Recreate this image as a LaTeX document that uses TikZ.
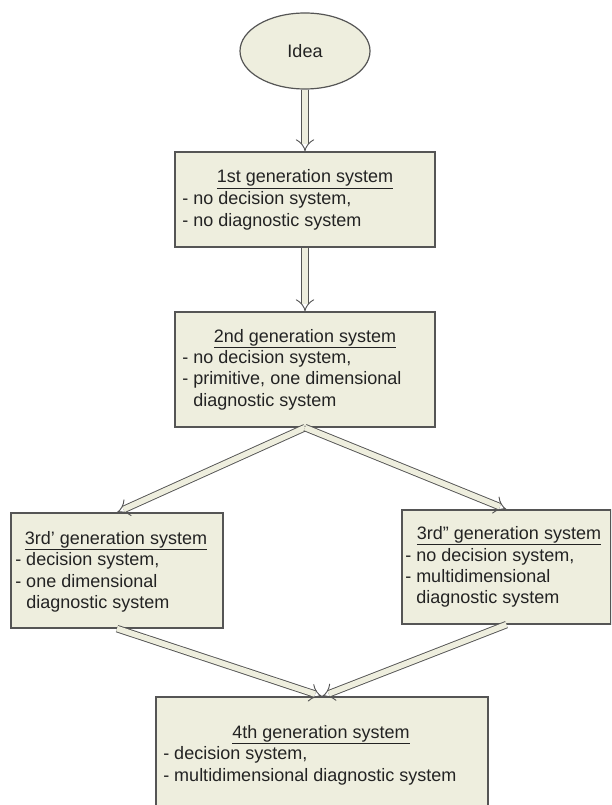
\documentclass[tikz,border=0pt]{standalone}
\usepackage{fontspec}
\setmainfont{Liberation Sans}
\usetikzlibrary{shapes.geometric,arrows.meta,arrows}
\definecolor{boxfill}{RGB}{238,238,222}
\definecolor{boxline}{RGB}{85,85,85}
\definecolor{txt}{RGB}{35,35,35}
\tikzset{
  box/.style={draw=boxline, fill=boxfill, line width=0.9pt, inner sep=0pt, rectangle},
  ideabox/.style={draw=boxline, fill=boxfill, line width=0.9pt, ellipse, inner sep=0pt,
    minimum width=97.5pt, minimum height=57pt, text=txt, font=\fontsize{13.5}{16.2}\selectfont},
  ttl/.style={anchor=base, inner sep=0pt, text=txt, font=\fontsize{13.5}{16.2}\selectfont},
  ln/.style={anchor=base west, inner sep=0pt, text=txt, font=\fontsize{13.5}{16.2}\selectfont},
  arr/.style={draw=boxline, double=boxfill, double distance=4.2pt, line width=0.7pt, -Implies}
}
\begin{document}
\begin{tikzpicture}[x=0.75pt, y=-0.75pt]
\useasboundingbox[fill=white] (0,0) rectangle (611,805);
\clip (0,0) rectangle (611,805);
% nodes
\node[ideabox] (idea) at (305,51) {Idea};
\node[box, minimum width=195pt, minimum height=71.25pt] (b1) at (305,199.5) {};
\node[box, minimum width=195pt, minimum height=86.25pt] (b2) at (305,369.5) {};
\node[box, minimum width=159pt, minimum height=86.25pt] (b3a) at (117,570.5) {};
\node[box, minimum width=156.75pt, minimum height=85.5pt] (b3b) at (506.5,567) {};
\node[box, minimum width=249pt, minimum height=105pt] (b4) at (322,767) {};
% texts box 1
\node[ttl] (t1) at (305,183) {\underline{1st generation system}};
\node[ln] (t1a) at (182,205) {- no decision system,};
\node[ln] (t1b) at (182,227) {- no diagnostic system};
% texts box 2
\node[ttl] (t2) at (305,342) {\underline{2nd generation system}};
\node[ln] (t2a) at (182,363) {- no decision system,};
\node[ln] (t2b) at (182,384) {- primitive, one dimensional};
\node[ln] (t2c) at (182,406) {\phantom{- }diagnostic system};
% texts box 3'
\node[ttl] (t3) at (116,544) {\underline{3rd' generation system}};
\node[ln] (t3a) at (15,565) {- decision system,};
\node[ln] (t3b) at (15,587) {- one dimensional};
\node[ln] (t3c) at (15,608) {\phantom{- }diagnostic system};
% texts box 3''
\node[ttl] (t4) at (509,539) {\underline{3rd'' generation system}};
\node[ln] (t4a) at (405,561) {- no decision system,};
\node[ln] (t4b) at (405,582) {- multidimensional};
\node[ln] (t4c) at (405,603) {\phantom{- }diagnostic system};
% texts box 4
\node[ttl] (t5) at (321,738) {\underline{4th generation system}};
\node[ln] (t5a) at (163,759) {- decision system,};
\node[ln] (t5b) at (163,781) {- multidimensional diagnostic system};
% connectors
\draw[arr] (idea.south) -- (b1.north);
\draw[arr] (b1.south) -- (b2.north);
\draw[arr] (b2.south) -- (b3a.north);
\draw[arr] (b2.south) -- (b3b.north);
\draw[arr] (b3a.south) -- (b4.north);
\draw[arr] (b3b.south) -- (b4.north);
\end{tikzpicture}
\end{document}
